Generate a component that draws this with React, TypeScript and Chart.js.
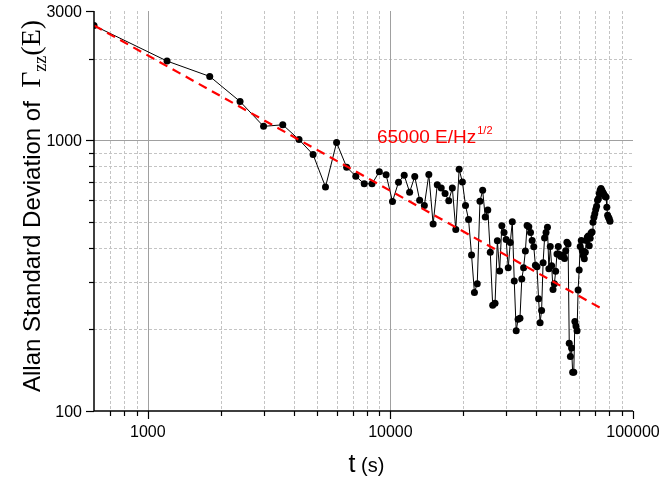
import React, { useEffect, useRef } from 'react';
import { Chart, registerables } from 'chart.js';

Chart.register(...registerables);

// averaging times (s)
const tau = [
  600, 1200, 1800, 2400, 3000, 3600, 4200, 4800, 5400, 6000,
  6600, 7200, 7800, 8400, 9000, 9600, 10200, 10800, 11400, 12000,
  12600, 13200, 13800, 14400, 15000, 15600, 16200, 16800, 17400, 18000,
  18600, 19200, 19800, 20400, 21000, 21600, 22200, 22800, 23400, 24000,
  24600, 25200, 25800, 26400, 27000, 27600, 28200, 28800, 29400, 30000,
  30600, 31200, 31800, 32400, 33000, 33600, 34200, 34800, 35400, 36000,
  36600, 37200, 37800, 38400, 39000, 39600, 40200, 40800, 41400, 42000,
  42600, 43200, 43800, 44400, 45000, 45600, 46200, 46800, 47400, 48000,
  48600, 49200, 49800, 50400, 51000, 51600, 52200, 52800, 53400, 54000,
  54600, 55200, 55800, 56400, 57000, 57600, 58200, 58800, 59400, 60000,
  60600, 61200, 61800, 62400, 63000, 63600, 64200, 64800, 65400, 66000,
  66600, 67200, 67800, 68400, 69000, 69600, 70200, 70800, 71400, 72000,
  72600, 73200, 73800, 74400, 75000, 75600, 76200, 76800, 77400, 78000,
  78600, 79200, 79800, 80400,
];

// Allan standard deviation (E)
const allanDev = [
  2650, 1960, 1720, 1390, 1125, 1140, 1005, 885, 672, 980,
  795, 736, 690, 690, 765, 745, 594, 700, 742, 643,
  734, 600, 574, 747, 490, 685, 666, 635, 598, 666,
  468, 781, 701, 574, 509, 377, 274, 295, 595, 653,
  520, 552, 386, 246, 250, 425, 329, 483, 456, 430,
  338, 419, 500, 302, 198, 218, 220, 307, 338, 390,
  484, 479, 456, 426, 404, 345, 341, 260, 212, 235,
  353, 435, 456, 477, 335, 405, 344, 281, 295, 328,
  380, 405, 378, 372, 375, 376, 366, 391, 420, 414,
  178, 159, 171, 139, 139, 214, 206, 198, 280, 332,
  405, 426, 391, 375, 365, 386, 426, 438, 443, 408,
  434, 454, 458, 498, 519, 535, 555, 570, 600, 608,
  636, 653, 663, 653, 643, 635, 626, 620, 617, 565,
  528, 519, 513, 502,
];

// white-noise fit line endpoints
const fitTau = [600, 76000];
const fitDev = [2654, 236];

const xMajorTicks = [1000, 10000, 100000];
const xMinorTicks = [700, 800, 900, 2000, 3000, 4000, 5000, 6000, 7000, 8000, 9000,
  20000, 30000, 40000, 50000, 60000, 70000, 80000, 90000];
const yMajorTicks = [100, 1000, 3000];
const yMinorTicks = [200, 300, 400, 500, 600, 700, 800, 900, 2000];
const xTickLabels = ['1000', '10000', '100000'];
const yTickLabels = ['100', '1000', '3000'];

const fitLabel = '65000 E/Hz';
const fitLabelSup = '1/2';
const fitLabelAt = { t: 8800, v: 975 };
const xTitleMain = 't';
const xTitleUnit = ' (s)';
const yTitleText = 'Allan Standard Deviation of  ';
const yTitleSymbol = 'Γ';
const yTitleSub = 'zz';
const yTitleArg = '(E)';

const SANS = '"Liberation Sans", Arial, Helvetica, sans-serif';
const SERIF = '"Liberation Serif", "Times New Roman", serif';

const decorPlugin = {
  id: 'decor',
  beforeDatasetsDraw(chart: any) {
    const { ctx, chartArea: a, scales } = chart;
    const x = scales.x;
    const y = scales.y;
    ctx.save();
    ctx.lineWidth = 1;
    ctx.strokeStyle = '#c4c4c4';
    ctx.setLineDash([3, 2]);
    for (const v of xMinorTicks) {
      const px = Math.round(x.getPixelForValue(v)) + 0.5;
      ctx.beginPath();
      ctx.moveTo(px, a.top);
      ctx.lineTo(px, a.bottom);
      ctx.stroke();
    }
    for (const v of yMinorTicks) {
      const py = Math.round(y.getPixelForValue(v)) + 0.5;
      ctx.beginPath();
      ctx.moveTo(a.left, py);
      ctx.lineTo(a.right, py);
      ctx.stroke();
    }
    ctx.setLineDash([]);
    ctx.strokeStyle = '#a0a0a0';
    for (const v of xMajorTicks) {
      const px = Math.round(x.getPixelForValue(v)) + 0.5;
      if (px > a.right - 2 || px < a.left + 2) continue;
      ctx.beginPath();
      ctx.moveTo(px, a.top);
      ctx.lineTo(px, a.bottom);
      ctx.stroke();
    }
    for (const v of yMajorTicks) {
      const py = Math.round(y.getPixelForValue(v)) + 0.5;
      if (py < a.top + 2 || py > a.bottom - 2) continue;
      ctx.beginPath();
      ctx.moveTo(a.left, py);
      ctx.lineTo(a.right, py);
      ctx.stroke();
    }
    ctx.restore();
  },
  afterDatasetsDraw(chart: any) {
    const { ctx, chartArea: a, scales } = chart;
    const x = scales.x;
    const y = scales.y;
    ctx.save();
    // axes
    ctx.strokeStyle = '#000';
    ctx.lineWidth = 1.5;
    ctx.beginPath();
    ctx.moveTo(a.left, a.top);
    ctx.lineTo(a.left, a.bottom);
    ctx.lineTo(a.right, a.bottom);
    ctx.stroke();
    ctx.lineWidth = 1.2;
    for (const v of xMajorTicks) {
      const px = Math.round(x.getPixelForValue(v)) + 0.5;
      ctx.beginPath();
      ctx.moveTo(px, a.bottom);
      ctx.lineTo(px, a.bottom + 8);
      ctx.stroke();
    }
    for (const v of xMinorTicks) {
      const px = Math.round(x.getPixelForValue(v)) + 0.5;
      ctx.beginPath();
      ctx.moveTo(px, a.bottom);
      ctx.lineTo(px, a.bottom + 5);
      ctx.stroke();
    }
    for (const v of yMajorTicks) {
      const py = Math.round(y.getPixelForValue(v)) + 0.5;
      ctx.beginPath();
      ctx.moveTo(a.left, py);
      ctx.lineTo(a.left - 8, py);
      ctx.stroke();
    }
    for (const v of yMinorTicks) {
      const py = Math.round(y.getPixelForValue(v)) + 0.5;
      ctx.beginPath();
      ctx.moveTo(a.left, py);
      ctx.lineTo(a.left - 5, py);
      ctx.stroke();
    }

    // tick labels
    ctx.fillStyle = '#000';
    ctx.font = `16px ${SANS}`;
    ctx.textBaseline = 'alphabetic';
    ctx.textAlign = 'center';
    xMajorTicks.forEach((v, i) => {
      ctx.fillText(xTickLabels[i], x.getPixelForValue(v), a.bottom + 26);
    });
    ctx.textAlign = 'right';
    yMajorTicks.forEach((v, i) => {
      ctx.fillText(yTickLabels[i], a.left - 12, y.getPixelForValue(v) + 6);
    });

    // fit annotation
    ctx.fillStyle = '#ff0000';
    ctx.textAlign = 'left';
    ctx.font = `19px ${SANS}`;
    const lx = x.getPixelForValue(fitLabelAt.t);
    const ly = y.getPixelForValue(fitLabelAt.v);
    ctx.fillText(fitLabel, lx, ly);
    const lw = ctx.measureText(fitLabel).width;
    ctx.font = `11px ${SANS}`;
    ctx.fillText(fitLabelSup, lx + lw + 1, ly - 9);

    // x title
    ctx.fillStyle = '#000';
    ctx.font = `25px ${SANS}`;
    const w1 = ctx.measureText(xTitleMain).width;
    ctx.font = `20px ${SANS}`;
    const w2 = ctx.measureText(xTitleUnit).width;
    const cx = (a.left + a.right) / 2 + 3;
    const sx = cx - (w1 + w2) / 2;
    ctx.font = `25px ${SANS}`;
    ctx.fillText(xTitleMain, sx, 472);
    ctx.font = `20px ${SANS}`;
    ctx.fillText(xTitleUnit, sx + w1, 472);

    // y title (rotated)
    ctx.translate(40, 392);
    ctx.rotate(-Math.PI / 2);
    let px = 0;
    ctx.font = `24px ${SANS}`;
    ctx.fillText(yTitleText, px, 0);
    px += ctx.measureText(yTitleText).width;
    ctx.font = `28px ${SERIF}`;
    ctx.fillText(yTitleSymbol, px, 0);
    px += ctx.measureText(yTitleSymbol).width;
    ctx.font = `18px ${SERIF}`;
    ctx.fillText(yTitleSub, px, 6);
    px += ctx.measureText(yTitleSub).width;
    ctx.font = `28px ${SERIF}`;
    ctx.fillText(yTitleArg, px, 0);
    ctx.restore();
  },
};

export default function App() {
  const canvasRef = useRef<HTMLCanvasElement | null>(null);

  useEffect(() => {
    const canvas = canvasRef.current;
    if (!canvas) return;
    const chart = new Chart(canvas, {
      type: 'scatter',
      data: {
        datasets: [
          {
            label: 'fit',
            order: 0,
            data: fitTau.map((t, i) => ({ x: t, y: fitDev[i] })),
            showLine: true,
            borderColor: '#ff0000',
            borderWidth: 2.2,
            borderDash: [9, 6],
            pointRadius: 0,
          },
          {
            label: 'Allan deviation',
            order: 1,
            data: tau.map((t, i) => ({ x: t, y: allanDev[i] })),
            showLine: true,
            borderColor: '#000',
            borderWidth: 1,
            pointRadius: 3.5,
            pointBackgroundColor: '#000',
            pointBorderColor: '#000',
            pointBorderWidth: 0,
          },
        ],
      },
      options: {
        animation: false,
        responsive: false,
        layout: { padding: { top: 11, right: 28, left: 0, bottom: 0 } },
        plugins: { legend: { display: false }, tooltip: { enabled: false } },
        scales: {
          x: {
            type: 'logarithmic',
            min: 600,
            max: 100000,
            afterBuildTicks: (s: any) => {
              s.ticks = xMajorTicks.map((v) => ({ value: v, major: true }));
            },
            afterFit: (s: any) => {
              s.height = 74;
            },
            grid: { display: false, drawTicks: false },
            border: { display: false },
            ticks: { display: false },
          },
          y: {
            type: 'logarithmic',
            min: 100,
            max: 3000,
            afterBuildTicks: (s: any) => {
              s.ticks = yMajorTicks.map((v) => ({ value: v, major: true }));
            },
            afterFit: (s: any) => {
              s.width = 94;
            },
            grid: { display: false, drawTicks: false },
            border: { display: false },
            ticks: { display: false },
          },
        },
      },
      plugins: [decorPlugin],
    });
    return () => chart.destroy();
  }, []);

  return (
    <div style={{ position: 'absolute', left: 0, top: 0, width: 661, height: 485, background: '#fff' }}>
      <canvas ref={canvasRef} width={661} height={485} />
    </div>
  );
}
